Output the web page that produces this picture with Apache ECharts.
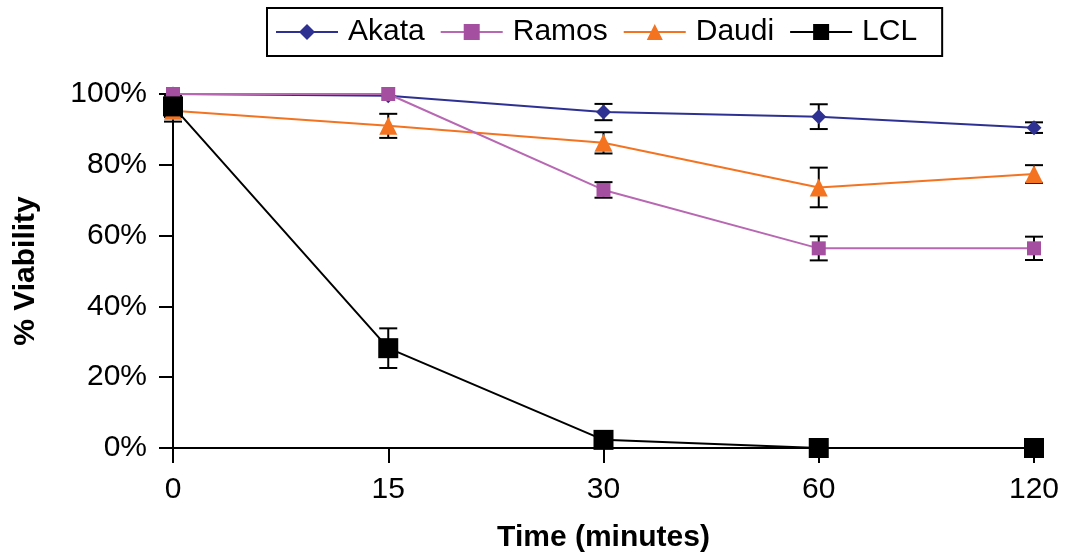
<!DOCTYPE html>
<html>
<head>
<meta charset="utf-8">
<script src="https://cdn.jsdelivr.net/npm/echarts@6/dist/echarts.min.js"></script>
<style>
html,body{margin:0;padding:0;background:#fff;}
#chart{width:1071px;height:559px;}
</style>
</head>
<body>
<div id="chart"></div>
<script>
const categories = ['0', '15', '30', '60', '120'];
const yTicks = [0, 20, 40, 60, 80, 100];

const akata = [100, 99.5, 94.9, 93.6, 90.5];
const akataErr = [0, 0, 2.3, 3.5, 1.5];
const ramos = [100, 100, 72.9, 56.4, 56.4];
const ramosErr = [0, 0, 2.2, 3.4, 3.3];
const daudi = [95.3, 91.0, 86.2, 73.6, 77.4];
const daudiErr = [3.1, 3.4, 3.0, 5.6, 2.5];
const lcl = [96.5, 28.2, 2.3, 0, 0];
const lclErr = [3.0, 5.6, 0, 0, 0];

const FONT = "'Liberation Sans', Arial, sans-serif";

function errData(vals, errs) {
  return vals.map((v, i) => [i, v - errs[i], v + errs[i], errs[i]]);
}

function errSeries(vals, errs, z) {
  return {
    type: 'custom',
    z: z,
    silent: true,
    data: errData(vals, errs),
    renderItem: function (params, api) {
      if (api.value(3) <= 0) return null;
      const x = api.value(0);
      const lo = api.coord([x, api.value(1)]);
      const hi = api.coord([x, api.value(2)]);
      const hw = 9;
      const st = { stroke: '#000', lineWidth: 2 };
      return {
        type: 'group',
        children: [
          { type: 'line', shape: { x1: lo[0], y1: lo[1], x2: hi[0], y2: hi[1] }, style: st },
          { type: 'line', shape: { x1: lo[0] - hw, y1: lo[1], x2: lo[0] + hw, y2: lo[1] }, style: st },
          { type: 'line', shape: { x1: hi[0] - hw, y1: hi[1], x2: hi[0] + hw, y2: hi[1] }, style: st }
        ]
      };
    }
  };
}

function lineSeries(name, data, color, lineColor, symbol, size, z) {
  return {
    name: name,
    type: 'line',
    data: data,
    z: z,
    symbol: symbol,
    symbolSize: size,
    showAllSymbol: true,
    itemStyle: { color: color, opacity: 1 },
    lineStyle: { color: lineColor, width: 2 },
    emphasis: { disabled: true },
    animation: false
  };
}

const chart = echarts.init(document.getElementById('chart'), null, { renderer: 'canvas' });
chart.setOption({
  backgroundColor: '#fff',
  animation: false,
  textStyle: { fontFamily: FONT },
  legend: {
    data: ['Akata', 'Ramos', 'Daudi', 'LCL'],
    left: 267,
    top: 8,
    padding: [9, 25, 9, 8],
    itemWidth: 62,
    itemHeight: 20,
    itemGap: 15,
    borderColor: '#000',
    borderWidth: 2,
    textStyle: { fontSize: 30, color: '#000', fontFamily: FONT, padding: [0, 0, 0, 5] }
  },
  grid: { left: 173, right: 37, top: 94, bottom: 111, containLabel: false },
  xAxis: {
    type: 'category',
    data: categories,
    boundaryGap: false,
    name: 'Time (minutes)',
    nameLocation: 'middle',
    nameGap: 75,
    nameTextStyle: { fontSize: 30, fontWeight: 'bold', color: '#000', fontFamily: FONT },
    axisLine: { lineStyle: { color: '#000', width: 2 } },
    axisTick: { show: true, length: 15, alignWithLabel: true, lineStyle: { color: '#000', width: 2 } },
    axisLabel: { fontSize: 30, color: '#000', margin: 27, fontFamily: FONT },
    splitLine: { show: false }
  },
  yAxis: {
    type: 'value',
    min: yTicks[0],
    max: yTicks[yTicks.length - 1],
    interval: 20,
    name: '% Viability',
    nameLocation: 'middle',
    nameRotate: 90,
    nameGap: 132,
    nameTextStyle: { fontSize: 30, fontWeight: 'bold', color: '#000', fontFamily: FONT },
    axisLine: { show: true, lineStyle: { color: '#000', width: 2 } },
    axisTick: { show: true, length: 14, lineStyle: { color: '#000', width: 2 } },
    axisLabel: { fontSize: 30, color: '#000', margin: 26, formatter: '{value}%', fontFamily: FONT },
    splitLine: { show: false }
  },
  series: [
    errSeries(akata, akataErr, 1),
    errSeries(ramos, ramosErr, 1),
    errSeries(daudi, daudiErr, 1),
    errSeries(lcl, lclErr, 1),
    lineSeries('Akata', akata, '#2E3192', '#2E3192', 'diamond', 15, 2),
    lineSeries('Daudi', daudi, '#F47320', '#F47320', 'triangle', 18, 3),
    lineSeries('Ramos', ramos, '#A54FA0', '#B868B3', 'rect', 14, 4),
    lineSeries('LCL', lcl, '#000000', '#000000', 'rect', 20, 5)
  ]
});
</script>
</body>
</html>
